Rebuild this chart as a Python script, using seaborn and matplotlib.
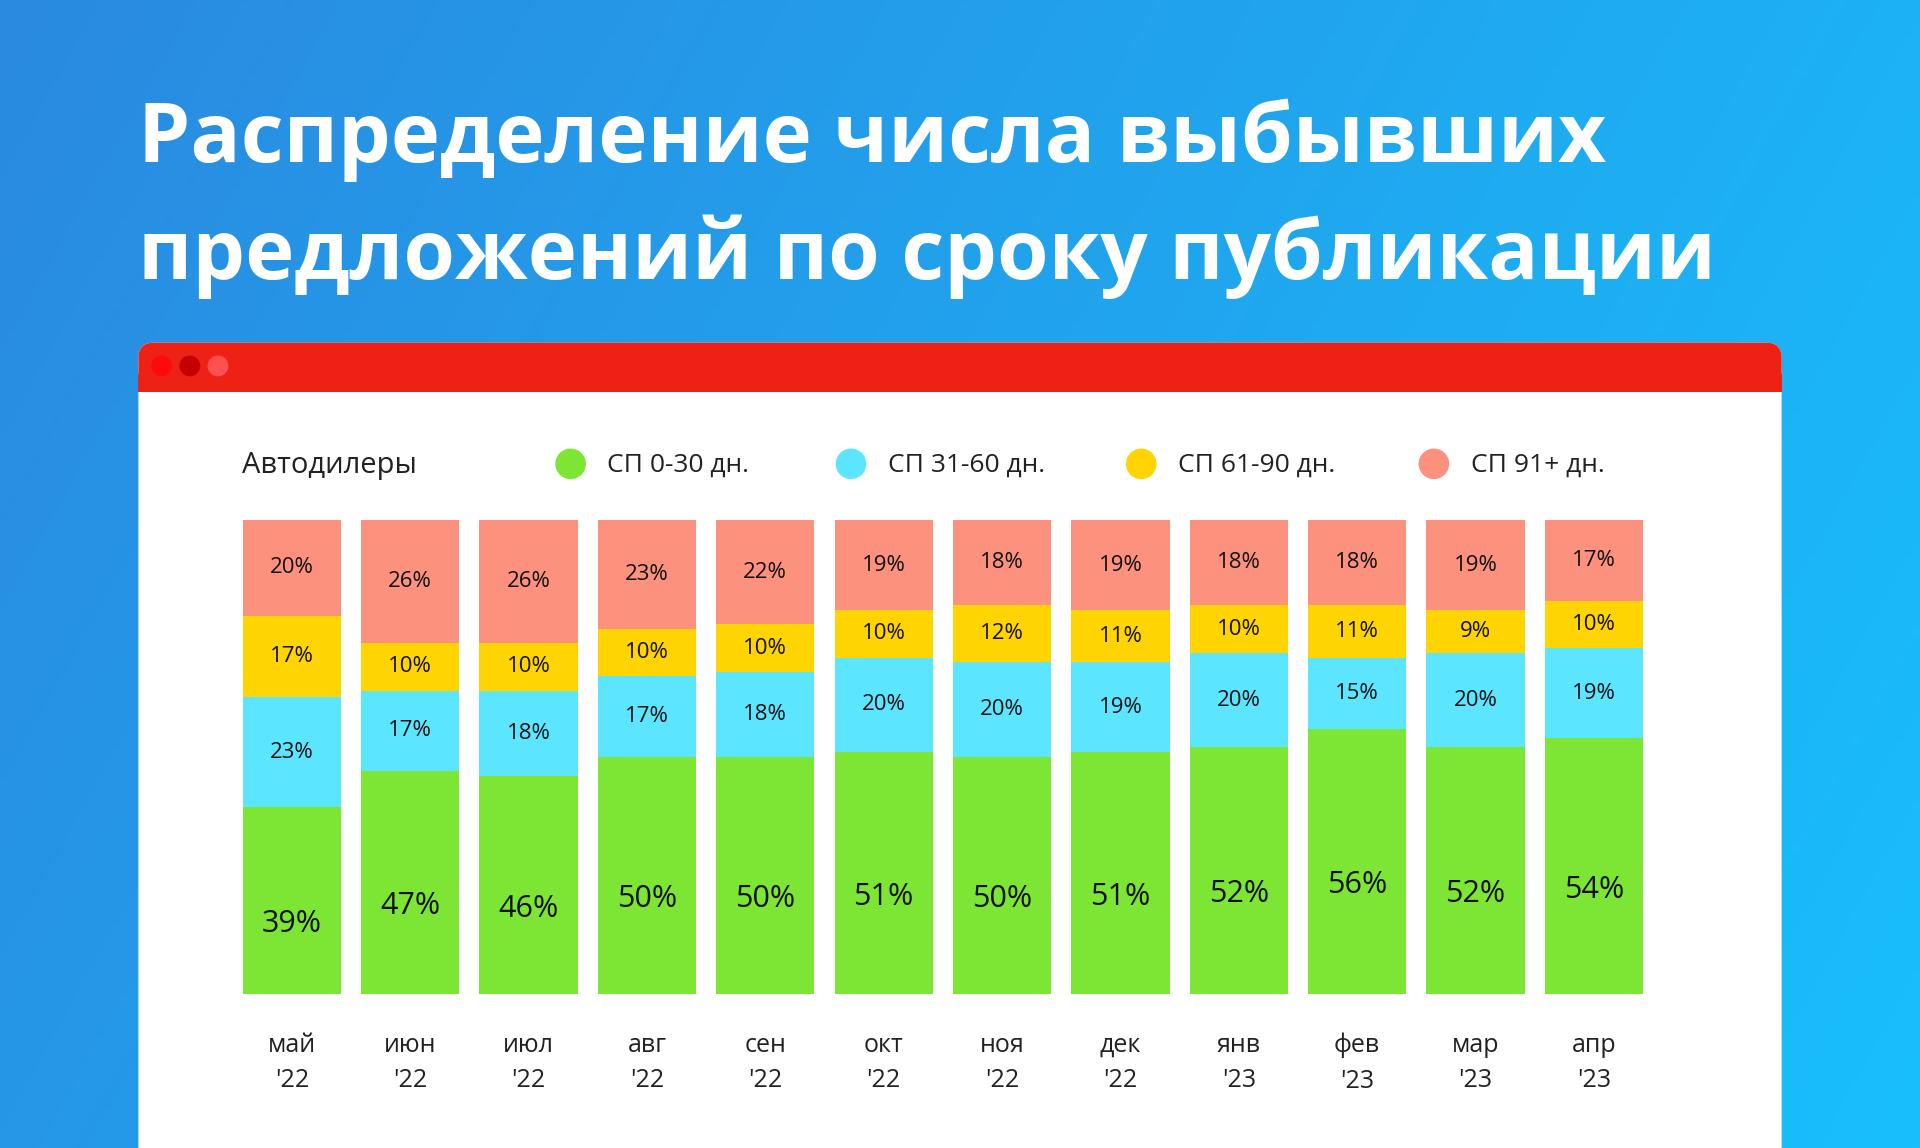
import numpy as np
import pandas as pd
import matplotlib
matplotlib.use("Agg")
import matplotlib.pyplot as plt
import seaborn as sns
from matplotlib.patches import FancyBboxPatch, Rectangle, Circle

months = ["май\n'22", "июн\n'22", "июл\n'22", "авг\n'22", "сен\n'22", "окт\n'22",
          "ноя\n'22", "дек\n'22", "янв\n'23", "фев\n'23", "мар\n'23", "апр\n'23"]
sp_0_30 = [39, 47, 46, 50, 50, 51, 50, 51, 52, 56, 52, 54]
sp_31_60 = [23, 17, 18, 17, 18, 20, 20, 19, 20, 15, 20, 19]
sp_61_90 = [17, 10, 10, 10, 10, 10, 12, 11, 10, 11, 9, 10]
sp_91 = [20, 26, 26, 23, 22, 19, 18, 19, 18, 18, 19, 17]

series = [("СП 0-30 дн.", sp_0_30, "#7de634"),
          ("СП 31-60 дн.", sp_31_60, "#5ce5ff"),
          ("СП 61-90 дн.", sp_61_90, "#ffd400"),
          ("СП 91+ дн.", sp_91, "#fc917d")]

sns.set_theme(style="white")
plt.rcParams['font.family'] = ['Open Sans', 'DejaVu Sans']

W, H = 1568, 938  # reference pixel grid
fig = plt.figure(figsize=(19.2, 11.48), dpi=100)

def fx(x): return x / W
def fy(y): return 1 - y / H

# gradient background
bg = fig.add_axes([0, 0, 1, 1])
grad = np.linspace(0, 1, 256)
c1, c2 = np.array([0x2a, 0x8a, 0xe0]) / 255, np.array([0x18, 0xbf, 0xfa]) / 255
xx, yy = np.meshgrid(grad, grad)
t = np.clip(0.75 * xx + 0.25 * (1 - yy), 0, 1)[..., None]
bg.imshow(c1 * (1 - t) + c2 * t, extent=[0, 1, 0, 1], aspect='auto', origin='lower')
bg.set_xlim(0, 1); bg.set_ylim(0, 1); bg.axis('off')

bg.text(fx(113), fy(115), "Распределение числа выбывших", color="white",
        fontsize=60, fontweight="bold", va="center", ha="left")
bg.text(fx(113), fy(210), "предложений по сроку публикации", color="white",
        fontsize=60, fontweight="bold", va="center", ha="left")

# card
bg.add_patch(FancyBboxPatch((fx(113), -0.05), fx(1455) - fx(113), fy(280) + 0.05,
                            boxstyle="round,pad=0,rounding_size=0.008",
                            fc="white", ec="none", mutation_aspect=W / H))
bg.add_patch(FancyBboxPatch((fx(113), fy(320)), fx(1455) - fx(113), fy(280) - fy(320),
                            boxstyle="round,pad=0,rounding_size=0.008",
                            fc="#ee2214", ec="none", mutation_aspect=W / H))
bg.add_patch(Rectangle((fx(113), fy(320)), fx(1455) - fx(113), 0.015, fc="#ee2214", ec="none"))
for x0, col in [(132, "#ff0a0a"), (155, "#c40000"), (178, "#ff5050")]:
    bg.add_patch(matplotlib.patches.Ellipse((fx(x0), fy(299)), 17 / W, 17 / H, fc=col, ec="none"))

# legend row
bg.text(fx(198), fy(380), "Автодилеры", fontsize=21, va="center", ha="left", color="#222222")
leg_x = [466, 695, 932, 1171]
for (name, _, col), lx in zip(series, leg_x):
    bg.add_patch(matplotlib.patches.Ellipse((fx(lx), fy(379)), 25 / W, 25 / H, fc=col, ec="none"))
    bg.text(fx(lx + 30), fy(380), name, fontsize=19, va="center", ha="left", color="#222222")

# bars
ax = fig.add_axes([fx(190), fy(812), fx(1350) - fx(190), fy(425) - fy(812)])
totals = np.sum([s[1] for s in series], axis=0)
df = pd.DataFrame({"month": months})
bottom = np.zeros(len(months))
for i, (name, vals, col) in enumerate(series):
    share = np.array(vals) / totals * 100
    df["v"] = share
    sns.barplot(data=df, x="month", y="v", color=col, width=0.83, bottom=bottom,
                ax=ax, saturation=1, edgecolor="none")
    for j, (v, b) in enumerate(zip(vals, bottom)):
        ax.text(j, b + share[j] / 2 + (-5 if i == 0 else 0), f"{v}%", ha="center", va="center",
                fontsize=22 if i == 0 else 16, color="#111111")
    bottom = bottom + share

ax.set_xlim(-0.5, len(months) - 0.5)
ax.set_ylim(0, 100)
ax.set_xlabel(""); ax.set_ylabel("")
ax.set_yticks([])
ax.tick_params(axis="x", length=0, pad=28, labelsize=18, labelcolor="#222222")
for lab in ax.get_xticklabels():
    lab.set_linespacing(1.55)
sns.despine(ax=ax, left=True, bottom=True)
ax.patch.set_alpha(0)

fig.savefig("out.png", dpi=100)
